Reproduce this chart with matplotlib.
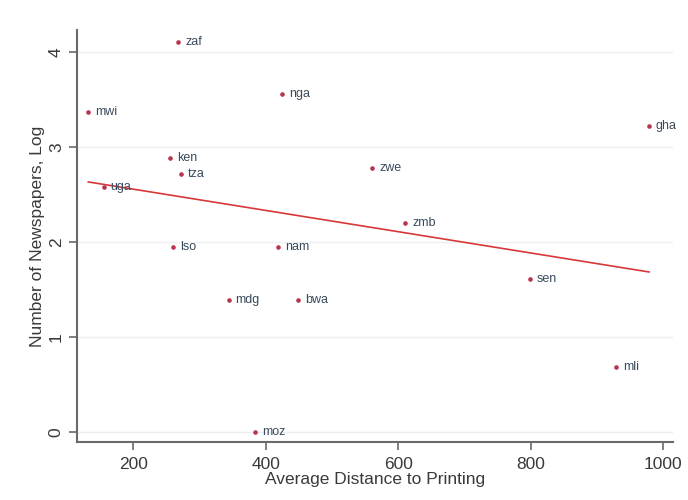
import numpy as np
import matplotlib
matplotlib.use("Agg")
import matplotlib.pyplot as plt

# country codes, distance to printing and log newspapers
codes = ["zaf", "nga", "mwi", "ken", "tza", "uga", "lso", "nam",
         "gha", "zwe", "zmb", "mdg", "bwa", "moz", "sen", "mli"]
distance = [268, 425, 132, 255, 272, 155, 260, 419,
            979, 561, 611, 344, 449, 384, 799, 929]
log_papers = [4.10, 3.56, 3.37, 2.89, 2.72, 2.58, 1.95, 1.95,
              3.22, 2.78, 2.20, 1.39, 1.39, 0.00, 1.61, 0.69]

x_ticks = [200, 400, 600, 800, 1000]
y_ticks = [0, 1, 2, 3, 4]

plt.rcParams['font.family'] = ['Liberation Sans', 'DejaVu Sans']

fig = plt.figure(figsize=(6.88, 5), dpi=100)
ax = fig.add_axes([0.112, 0.116, 0.866, 0.824])

x = np.array(distance)
y = np.array(log_papers)

# linear fit over the data range
b, a = np.polyfit(x, y, 1)
xs = np.array([x.min(), x.max()])
ax.plot(xs, a + b * xs, color='#d9383a', lw=1.2, zorder=2)

ax.scatter(x, y, s=11, color='#b8354f', marker='o', zorder=3, linewidths=0)
for c, xi, yi in zip(codes, x, y):
    ax.annotate(c, (xi, yi), xytext=(5, 0), textcoords='offset points',
                va='center', ha='left', fontsize=9, color='#3a4a5c')

ax.set_xlim(115, 1015)
ax.set_ylim(-0.1, 4.23)
ax.set_xticks(x_ticks)
ax.set_yticks(y_ticks)
ax.yaxis.grid(True, color='#eceff2', lw=1)
ax.set_axisbelow(True)

for s in ['top', 'right']:
    ax.spines[s].set_visible(False)
for s in ['left', 'bottom']:
    ax.spines[s].set_color('#6a6a6a')
    ax.spines[s].set_linewidth(1.5)

ax.tick_params(axis='both', colors='#6a6a6a', length=6, width=1.2,
               labelcolor='#3a3a3a', labelsize=12.5)
ax.tick_params(axis='x', pad=5)
for lab in ax.get_yticklabels():
    lab.set_rotation(90)
    lab.set_va('center')

ax.set_xlabel('Average Distance to Printing', fontsize=12.5, color='#3a3a3a', labelpad=0)
ax.set_ylabel('Number of Newspapers, Log', fontsize=12.5, color='#3a3a3a', labelpad=3)

fig.savefig('out.png', dpi=100)
